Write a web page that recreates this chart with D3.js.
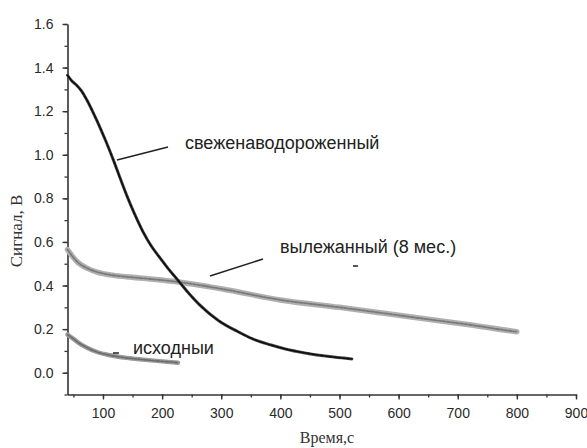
<!DOCTYPE html>
<html>
<head>
<meta charset="utf-8">
<script src="https://cdn.jsdelivr.net/npm/d3@7"></script>
<style>
  body { margin: 0; background: #fff; }
  .tick text { font-family: "Liberation Sans", Arial, sans-serif; font-size: 14px; fill: #2a2a2a; }
  .label { font-family: "Liberation Sans", Arial, sans-serif; fill: #222; }
</style>
</head>
<body>
<div id="chart"></div>
<script>
// time, s
const freshTime = [40, 47, 55, 63, 73, 84, 95, 106, 117, 128, 140, 154, 168, 182, 197, 211, 225, 245, 264, 295, 327, 355, 383, 410, 439, 480, 521];
const freshSignal = [1.365, 1.34, 1.32, 1.295, 1.25, 1.19, 1.125, 1.055, 0.98, 0.9, 0.815, 0.725, 0.645, 0.58, 0.525, 0.475, 0.43, 0.365, 0.31, 0.24, 0.19, 0.153, 0.128, 0.108, 0.092, 0.075, 0.063];

const agedTime = [40, 48, 58, 73, 90, 112, 140, 180, 231, 300, 400, 500, 569, 650, 720, 794, 800];
const agedSignal = [0.565, 0.535, 0.505, 0.48, 0.462, 0.449, 0.44, 0.43, 0.415, 0.385, 0.334, 0.30, 0.275, 0.245, 0.22, 0.19, 0.188];

const initialTime = [40, 50, 60, 73, 90, 112, 140, 168, 200, 227];
const initialSignal = [0.175, 0.155, 0.135, 0.115, 0.095, 0.08, 0.068, 0.06, 0.052, 0.046];

const xTicks = [100, 200, 300, 400, 500, 600, 700, 800, 900];
const yTicks = [0.0, 0.2, 0.4, 0.6, 0.8, 1.0, 1.2, 1.4, 1.6];

const labelFresh = "свеженаводороженный";
const labelAged = "вылежанный (8 мес.)";
const labelInitial = "исходныи";

const width = 587, height = 448;

const x = d3.scaleLinear().domain([40, 900]).range([67.5, 576]);
const y = d3.scaleLinear().domain([-0.1, 1.6]).range([394.5, 24]);

const svg = d3.select("#chart").append("svg")
  .attr("width", width)
  .attr("height", height);

const defs = svg.append("defs");
defs.append("filter").attr("id", "soft")
  .append("feGaussianBlur").attr("stdDeviation", 0.6);

// minor ticks first, majors on top
svg.append("g")
  .attr("transform", "translate(0," + y(-0.1) + ")")
  .call(d3.axisBottom(x).tickValues(d3.range(50, 901, 50)).tickSize(3).tickFormat(""))
  .call(g => g.select(".domain").remove())
  .selectAll("line").attr("stroke", "#333").attr("stroke-width", 1.3);

svg.append("g")
  .attr("transform", "translate(" + x(40) + ",0)")
  .call(d3.axisLeft(y).tickValues(d3.range(-0.1, 1.61, 0.1)).tickSize(3).tickFormat(""))
  .call(g => g.select(".domain").remove())
  .selectAll("line").attr("stroke", "#333").attr("stroke-width", 1.3);

const xAxis = svg.append("g")
  .attr("transform", "translate(0," + y(-0.1) + ")")
  .call(d3.axisBottom(x).tickValues(xTicks).tickSize(5).tickSizeOuter(0).tickPadding(9));
xAxis.select(".domain").attr("stroke", "#333").attr("stroke-width", 1.6);
xAxis.selectAll(".tick line").attr("stroke", "#333").attr("stroke-width", 1.4);

const yAxis = svg.append("g")
  .attr("transform", "translate(" + x(40) + ",0)")
  .call(d3.axisLeft(y).tickValues(yTicks).tickSize(5).tickSizeOuter(0).tickPadding(9)
    .tickFormat(d3.format(".1f")));
yAxis.select(".domain").attr("stroke", "#333").attr("stroke-width", 1.6);
yAxis.selectAll(".tick line").attr("stroke", "#333").attr("stroke-width", 1.4);

// axis titles
svg.append("text")
  .attr("transform", "translate(22,231) rotate(-90)")
  .attr("text-anchor", "middle")
  .style("font-family", "'Liberation Serif', 'Times New Roman', serif")
  .style("font-size", "17px")
  .attr("fill", "#333")
  .text("Сигнал, В");

svg.append("text")
  .attr("x", 327).attr("y", 443)
  .attr("text-anchor", "middle")
  .style("font-family", "'Liberation Serif', 'Times New Roman', serif")
  .style("font-size", "16px")
  .attr("fill", "#333")
  .text("Время,с");

const line = d3.line()
  .x(d => x(d[0]))
  .y(d => y(d[1]))
  .curve(d3.curveMonotoneX);

const curves = svg.append("g").attr("filter", "url(#soft)");

function drawCurve(times, values, halo, haloWidth, core, coreWidth) {
  const pts = d3.zip(times, values);
  curves.append("path").datum(pts)
    .attr("d", line).attr("fill", "none")
    .attr("stroke", halo).attr("stroke-width", haloWidth)
    .attr("stroke-linecap", "round");
  curves.append("path").datum(pts)
    .attr("d", line).attr("fill", "none")
    .attr("stroke", core).attr("stroke-width", coreWidth)
    .attr("stroke-dasharray", "3,1.5")
    .attr("stroke-linecap", "round");
}

drawCurve(initialTime, initialSignal, "#9a9a9a", 4.5, "#6a6a6a", 1.6);
drawCurve(agedTime, agedSignal, "#b0b0b0", 5.5, "#7a7a7a", 1.8);
drawCurve(freshTime, freshSignal, "#555", 3, "#111", 1.8);

// labels with leader lines
const leaders = [
  [[117, 160], [168, 147]],
  [[210, 276], [263, 259]],
  [[113, 353], [119, 353]],
  [[353, 266], [358, 266]]
];
svg.append("g").selectAll("line").data(leaders).join("line")
  .attr("x1", d => d[0][0]).attr("y1", d => d[0][1])
  .attr("x2", d => d[1][0]).attr("y2", d => d[1][1])
  .attr("stroke", "#222").attr("stroke-width", 1.5);

const labels = [
  { text: labelFresh, x: 185, y: 149 },
  { text: labelAged, x: 280, y: 253 },
  { text: labelInitial, x: 133, y: 354 }
];
svg.append("g").selectAll("text").data(labels).join("text")
  .attr("class", "label")
  .attr("x", d => d.x).attr("y", d => d.y)
  .style("font-size", "18px")
  .text(d => d.text);
</script>
</body>
</html>
